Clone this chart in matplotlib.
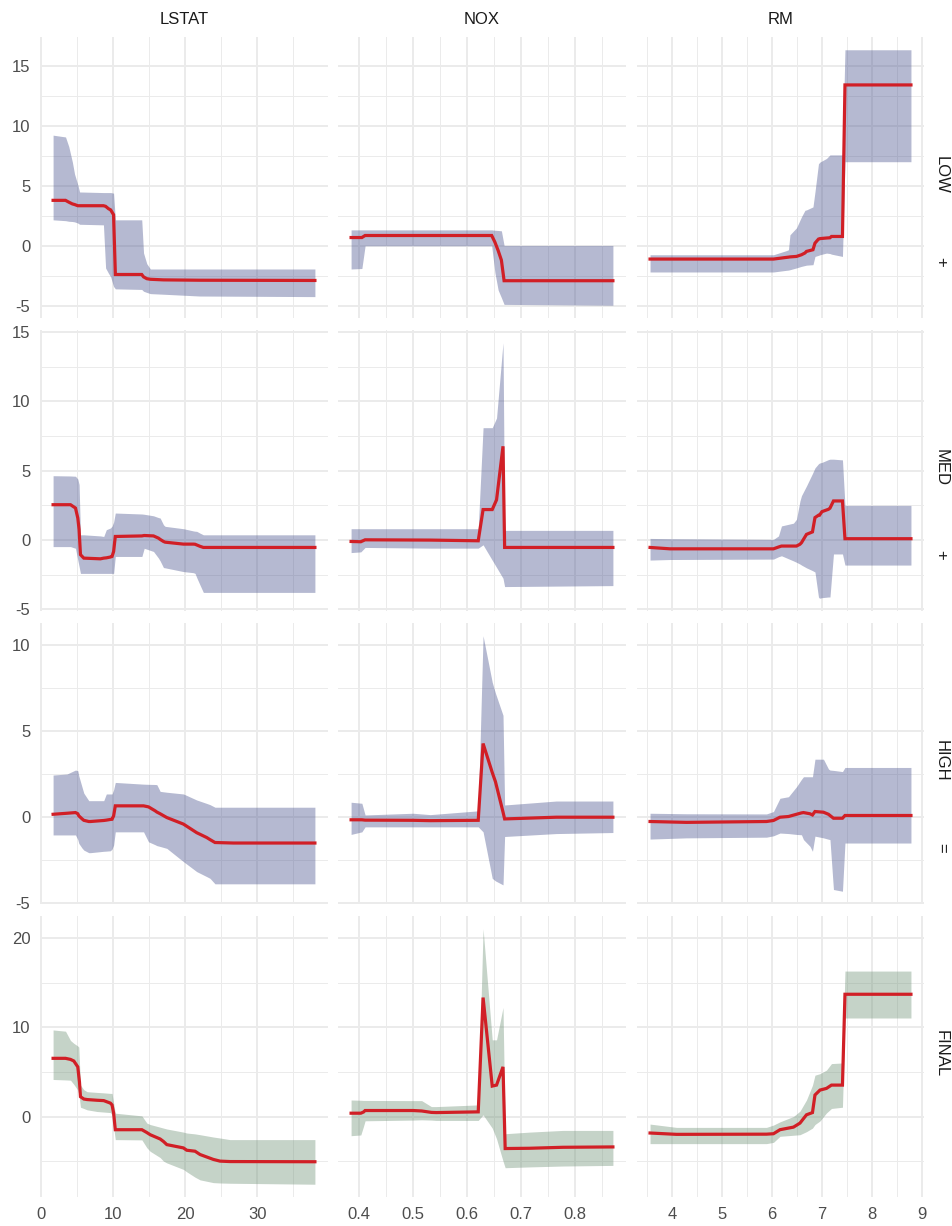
import numpy as np
import matplotlib
matplotlib.use('Agg')
import matplotlib.pyplot as plt
from matplotlib.ticker import MultipleLocator, FuncFormatter

plt.rcParams['font.family'] = ['Liberation Sans', 'DejaVu Sans']
plt.rcParams['axes.unicode_minus'] = False

features = ['LSTAT', 'NOX', 'RM']
stages = ['LOW', 'MED', 'HIGH', 'FINAL']
stage_marks = ['+', '+', '=', '']

# ---- LOW stage ----
lstat_low_x = [1.73, 3.45, 3.9, 4.4, 4.7, 5.15, 5.4, 8.7, 9.0, 9.4, 9.7, 10.1, 10.35, 14.0, 14.25, 14.7, 15.2, 17.0, 22.0, 37.97]
lstat_low_fit = [3.8, 3.8, 3.65, 3.5, 3.45, 3.35, 3.35, 3.35, 3.3, 3.1, 3.0, 2.6, -2.4, -2.4, -2.6, -2.75, -2.8, -2.85, -2.88, -2.9]
lstat_low_hi = [9.25, 9.1, 8.3, 7.0, 6.0, 5.1, 4.5, 4.45, 4.45, 4.45, 4.45, 4.4, 2.17, 2.17, -0.6, -1.5, -1.94, -1.94, -1.94, -1.94]
lstat_low_lo = [2.17, 2.1, 2.05, 2.03, 2.0, 1.9, 1.8, 1.75, -1.86, -2.3, -2.6, -3.4, -3.6, -3.65, -3.8, -3.9, -4.0, -4.05, -4.2, -4.25]

nox_low_x = [0.385, 0.405, 0.411, 0.646, 0.652, 0.658, 0.664, 0.669, 0.871]
nox_low_fit = [0.69, 0.69, 0.86, 0.86, 0.3, -0.4, -1.2, -2.92, -2.92]
nox_low_hi = [1.33, 1.33, 1.33, 1.33, 1.3, 1.28, 1.25, 0.03, 0.03]
nox_low_lo = [-1.94, -1.9, 0.0, 0.0, -2.25, -3.7, -4.34, -4.9, -4.97]

rm_low_x = [3.561, 6.03, 6.29, 6.33, 6.36, 6.49, 6.59, 6.66, 6.69, 6.82, 6.86, 6.93, 6.96, 7.09, 7.16, 7.19, 7.41, 7.46, 8.78]
rm_low_fit = [-1.11, -1.11, -0.97, -0.95, -0.93, -0.89, -0.75, -0.6, -0.47, -0.33, 0.22, 0.56, 0.6, 0.65, 0.67, 0.78, 0.78, 13.45, 13.45]
rm_low_hi = [-0.75, -0.75, -0.4, -0.33, 0.92, 1.5, 2.42, 2.97, 3.0, 3.25, 4.5, 6.86, 7.0, 7.3, 7.6, 7.6, 7.6, 16.39, 16.39]
rm_low_lo = [-2.19, -2.19, -2.05, -2.03, -2.0, -1.85, -1.72, -1.65, -1.62, -1.58, -0.89, -0.8, -0.75, -0.61, -0.65, -0.7, -0.89, 7.03, 7.03]

# ---- MED stage ----
lstat_med_x = [1.73, 4.14, 4.83, 5.15, 5.33, 5.52, 5.98, 8.28, 8.74, 9.1, 9.66, 9.89, 10.11, 10.34, 14.02, 14.34,
               15.63, 16.32, 16.55, 17.01, 17.24, 19.77, 21.15, 21.38, 21.61, 22.07, 22.53, 37.97]
lstat_med_fit = [2.55, 2.55, 2.31, 1.59, 0.75, -1.05, -1.3, -1.35, -1.3, -1.28, -1.22, -1.18, -0.82, 0.26, 0.3, 0.33,
                 0.3, 0.14, 0.05, -0.1, -0.15, -0.29, -0.29, -0.3, -0.35, -0.45, -0.53, -0.53]
lstat_med_hi = [4.64, 4.62, 4.6, 4.4, 4.0, 0.38, 0.38, 0.3, 0.26, 0.75, 0.87, 1.0, 1.3, 1.95, 1.88, 1.86,
                1.75, 1.62, 1.59, 1.1, 0.99, 0.82, 0.66, 0.64, 0.63, 0.5, 0.38, 0.38]
lstat_med_lo = [-0.47, -0.47, -0.59, -1.44, -1.9, -2.4, -2.4, -2.4, -2.4, -2.4, -2.4, -2.4, -2.4, -1.18, -1.18, -0.59,
                -0.82, -1.3, -1.5, -1.98, -2.0, -2.27, -2.35, -2.4, -2.7, -3.24, -3.77, -3.77]

nox_med_x = [0.385, 0.403, 0.411, 0.532, 0.621, 0.630, 0.647, 0.655, 0.667, 0.670, 0.871]
nox_med_fit = [-0.1, -0.12, 0.02, 0.0, -0.05, 2.2, 2.2, 2.9, 6.76, -0.53, -0.53]
nox_med_hi = [0.82, 0.82, 0.82, 0.82, 0.82, 8.1, 8.1, 8.8, 14.22, 0.7, 0.7]
nox_med_lo = [-0.9, -0.85, -0.53, -0.58, -0.58, -0.34, -1.45, -1.97, -2.75, -3.35, -3.28]

rm_med_x = [3.561, 3.96, 6.03, 6.13, 6.19, 6.43, 6.49, 6.56, 6.59, 6.69, 6.81, 6.86, 6.93, 6.95, 7.0, 7.13, 7.16,
            7.23, 7.41, 7.46, 8.78]
rm_med_fit = [-0.53, -0.63, -0.63, -0.5, -0.43, -0.43, -0.43, -0.3, -0.19, 0.41, 0.59, 1.62, 1.79, 1.79, 2.05, 2.22,
              2.3, 2.82, 2.82, 0.1, 0.1]
rm_med_hi = [0.12, 0.1, 0.05, 0.3, 1.02, 1.22, 1.5, 2.82, 3.2, 3.9, 4.8, 5.2, 5.5, 5.55, 5.6, 5.8, 5.83, 5.83, 5.78,
             2.5, 2.5]
rm_med_lo = [-1.44, -1.4, -1.37, -1.2, -1.13, -1.5, -1.6, -1.73, -1.8, -2.0, -2.2, -2.3, -4.1, -4.19, -4.15, -4.1,
             -4.1, -1.0, -1.0, -1.8, -1.8]

# ---- HIGH stage ----
lstat_high_x = [1.73, 3.66, 4.83, 5.15, 5.29, 5.75, 5.98, 6.67, 6.9, 8.74, 9.1, 9.66, 9.89, 10.11, 10.34, 14.25,
                14.94, 15.86, 16.09, 16.55, 17.47, 19.77, 21.61, 22.99, 23.45, 24.14, 26.67, 37.97]
lstat_high_fit = [0.17, 0.23, 0.27, 0.2, 0.08, -0.1, -0.18, -0.25, -0.25, -0.19, -0.17, -0.13, -0.12, 0.08, 0.66, 0.66,
                  0.6, 0.37, 0.3, 0.2, -0.02, -0.4, -0.9, -1.18, -1.3, -1.47, -1.5, -1.5]
lstat_high_hi = [2.45, 2.51, 2.74, 2.7, 2.4, 1.73, 1.4, 0.96, 0.96, 0.96, 1.35, 1.35, 1.35, 1.6, 2.02, 1.92,
                 1.91, 1.9, 1.89, 1.5, 1.45, 1.35, 1.0, 0.8, 0.73, 0.58, 0.58, 0.58]
lstat_high_lo = [-1.03, -1.03, -1.03, -1.3, -1.52, -1.8, -1.91, -2.06, -2.06, -1.98, -1.97, -1.95, -1.85, -1.62, -0.85,
                 -0.85, -1.43, -1.6, -1.65, -1.7, -1.81, -2.58, -3.16, -3.45, -3.55, -3.87, -3.87, -3.87]

nox_high_x = [0.385, 0.405, 0.411, 0.500, 0.532, 0.621, 0.630, 0.647, 0.653, 0.667, 0.670, 0.766, 0.871]
nox_high_fit = [-0.15, -0.15, -0.17, -0.18, -0.2, -0.18, 4.28, 2.6, 2.06, 0.3, -0.1, 0.0, 0.0]
nox_high_hi = [0.87, 0.81, 0.13, 0.23, 0.15, 0.37, 10.54, 7.84, 7.2, 5.92, 0.71, 0.94, 0.94]
nox_high_lo = [-1.0, -0.85, -0.56, -0.56, -0.56, -0.56, -0.85, -3.55, -3.7, -3.93, -1.12, -0.95, -0.89]

rm_high_x = [3.561, 4.29, 5.89, 6.03, 6.16, 6.33, 6.49, 6.59, 6.63, 6.76, 6.81, 6.86, 7.03, 7.13, 7.16, 7.23, 7.41,
             7.46, 8.78]
rm_high_fit = [-0.25, -0.3, -0.25, -0.19, 0.0, 0.04, 0.17, 0.25, 0.27, 0.2, 0.13, 0.33, 0.29, 0.17, 0.1, -0.06, -0.06,
               0.1, 0.1]
rm_high_hi = [0.23, 0.2, 0.19, 0.33, 1.1, 1.19, 1.77, 2.2, 2.35, 2.35, 2.35, 3.37, 3.37, 2.8, 2.74, 2.72, 2.65,
              2.89, 2.89]
rm_high_lo = [-1.27, -1.2, -1.16, -1.08, -0.92, -0.95, -1.0, -1.02, -1.3, -1.69, -1.98, -1.1, -1.2, -1.28, -1.3,
              -4.2, -4.3, -1.5, -1.5]

# ---- FINAL ----
lstat_final_x = [1.73, 3.45, 4.14, 4.6, 5.15, 5.29, 5.38, 5.52, 5.98, 6.44, 7.82, 8.74, 9.66, 9.89, 10.11, 10.34,
                 14.02, 14.71, 15.17, 16.55, 17.01, 17.47, 19.77, 20.23, 21.38, 22.07, 23.91, 24.83, 26.21, 37.97]
lstat_final_fit = [6.52, 6.52, 6.4, 6.22, 5.56, 4.5, 3.89, 2.22, 1.96, 1.9, 1.82, 1.78, 1.5, 1.3, 0.37, -1.48,
                   -1.48, -1.8, -2.04, -2.52, -2.8, -3.15, -3.52, -3.78, -3.89, -4.26, -4.81, -5.0, -5.05, -5.07]
lstat_final_hi = [9.7, 9.56, 8.52, 8.2, 7.9, 7.78, 6.0, 3.52, 3.0, 2.78, 2.7, 2.65, 2.59, 2.59, 1.5, 0.37,
                  0.07, -0.74, -0.9, -1.2, -1.3, -1.4, -1.75, -1.85, -1.95, -2.04, -2.3, -2.41, -2.59, -2.59]
lstat_final_lo = [4.15, 4.1, 4.07, 3.6, 2.96, 2.5, 2.0, 1.04, 0.9, 0.75, 0.56, 0.5, 0.44, 0.2, -1.2, -2.59,
                  -2.62, -3.5, -3.9, -4.6, -5.0, -5.2, -5.93, -6.2, -6.8, -7.1, -7.41, -7.45, -7.48, -7.59]

nox_final_x = [0.385, 0.403, 0.408, 0.411, 0.500, 0.516, 0.534, 0.543, 0.621, 0.630, 0.647, 0.655, 0.667, 0.671,
               0.716, 0.778, 0.871]
nox_final_fit = [0.37, 0.37, 0.5, 0.67, 0.67, 0.62, 0.46, 0.44, 0.52, 13.33, 3.41, 3.52, 5.56, -3.59, -3.56, -3.45, -3.41]
nox_final_hi = [1.85, 1.82, 1.8, 1.8, 1.78, 1.78, 1.11, 1.11, 1.3, 21.04, 8.59, 8.59, 12.22, -1.93, -1.75, -1.56, -1.56]
nox_final_lo = [-2.15, -2.07, -1.11, -0.48, -0.4, -0.37, -0.4, -0.44, -0.44, 0.19, -1.3, -2.5, -5.0, -5.74, -5.65,
                -5.55, -5.48]

rm_final_x = [3.561, 4.09, 5.89, 6.03, 6.16, 6.43, 6.56, 6.69, 6.81, 6.86, 6.96, 7.09, 7.19, 7.41, 7.46, 8.78]
rm_final_fit = [-1.85, -2.0, -1.98, -1.93, -1.48, -1.19, -0.74, 0.19, 0.44, 2.41, 2.96, 3.15, 3.52, 3.52, 13.7, 13.7]
rm_final_hi = [-0.85, -1.22, -1.22, -0.96, -0.6, 0.0, 0.6, 1.85, 3.5, 4.63, 4.8, 5.2, 5.93, 6.0, 16.3, 16.3]
rm_final_lo = [-3.04, -3.04, -3.04, -2.9, -2.22, -2.1, -2.04, -1.7, -1.3, -0.9, -0.5, 0.4, 0.9, 1.04, 11.04, 11.04]

grid = [
    [(lstat_low_x, lstat_low_lo, lstat_low_fit, lstat_low_hi),
     (nox_low_x, nox_low_lo, nox_low_fit, nox_low_hi),
     (rm_low_x, rm_low_lo, rm_low_fit, rm_low_hi)],
    [(lstat_med_x, lstat_med_lo, lstat_med_fit, lstat_med_hi),
     (nox_med_x, nox_med_lo, nox_med_fit, nox_med_hi),
     (rm_med_x, rm_med_lo, rm_med_fit, rm_med_hi)],
    [(lstat_high_x, lstat_high_lo, lstat_high_fit, lstat_high_hi),
     (nox_high_x, nox_high_lo, nox_high_fit, nox_high_hi),
     (rm_high_x, rm_high_lo, rm_high_fit, rm_high_hi)],
    [(lstat_final_x, lstat_final_lo, lstat_final_fit, lstat_final_hi),
     (nox_final_x, nox_final_lo, nox_final_fit, nox_final_hi),
     (rm_final_x, rm_final_lo, rm_final_fit, rm_final_hi)],
]

band_colors = ['#46518C', '#46518C', '#46518C', '#6E9176']
line_color = '#D11F26'
grid_color = '#EBEBEB'

x_major = [10, 0.1, 1]
y_major = [5, 5, 5, 10]

W, H = 952, 1226
fig = plt.figure(figsize=(W / 100, H / 100), dpi=100)
col_px = [(40, 328), (338, 626), (637, 924)]
top0, ph, gap = 37, 281, 12


def padded(vals):
    lo, hi = min(vals), max(vals)
    d = (hi - lo) * 0.05
    return lo - d, hi + d


# free scales: one x range per column, one y range per row
xlims = []
for c in range(3):
    xs = [v for r in range(4) for v in grid[r][c][0]]
    xlims.append(padded(xs))
ylims = []
for r in range(4):
    ys = [v for c in range(3) for arr in grid[r][c][1:] for v in arr]
    ylims.append(padded(ys))

fmt = FuncFormatter(lambda v, p: '%g' % round(v, 6))

for r in range(4):
    top = top0 + r * (ph + gap)
    for c in range(3):
        l, rr = col_px[c]
        ax = fig.add_axes([l / W, 1 - (top + ph) / H, (rr - l) / W, ph / H])
        x, lo, fit, hi = [np.asarray(a) for a in grid[r][c]]
        ax.fill_between(x, lo, hi, color=band_colors[r], alpha=0.4, linewidth=0)
        ax.plot(x, fit, color=line_color, lw=2.3, solid_joinstyle='miter')
        ax.set_xlim(*xlims[c])
        ax.set_ylim(*ylims[r])
        ax.xaxis.set_major_locator(MultipleLocator(x_major[c]))
        ax.xaxis.set_minor_locator(MultipleLocator(x_major[c] / 2))
        ax.yaxis.set_major_locator(MultipleLocator(y_major[r]))
        ax.yaxis.set_minor_locator(MultipleLocator(y_major[r] / 2))
        ax.xaxis.set_major_formatter(fmt)
        ax.yaxis.set_major_formatter(fmt)
        ax.set_axisbelow(True)
        ax.grid(which='major', color=grid_color, lw=1.4)
        ax.grid(which='minor', color=grid_color, lw=0.7)
        for s in ax.spines.values():
            s.set_visible(False)
        ax.tick_params(which='both', length=0, labelsize=12, labelcolor='#4D4D4D', pad=7)
        if c > 0:
            ax.tick_params(labelleft=False)
        if r < 3:
            ax.tick_params(labelbottom=False)
        if r == 0:
            ax.set_title(features[c], fontsize=12, color='#1A1A1A', pad=9)
        if c == 2:
            ax.text(1.06, 0.51, stages[r], transform=ax.transAxes, rotation=-90,
                    ha='center', va='center', fontsize=12, color='#1A1A1A')
            if stage_marks[r]:
                ax.text(1.06, 0.2, stage_marks[r], transform=ax.transAxes, rotation=-90,
                        ha='center', va='center', fontsize=12, color='#1A1A1A')

fig.savefig('out.png', dpi=100, facecolor='white')
